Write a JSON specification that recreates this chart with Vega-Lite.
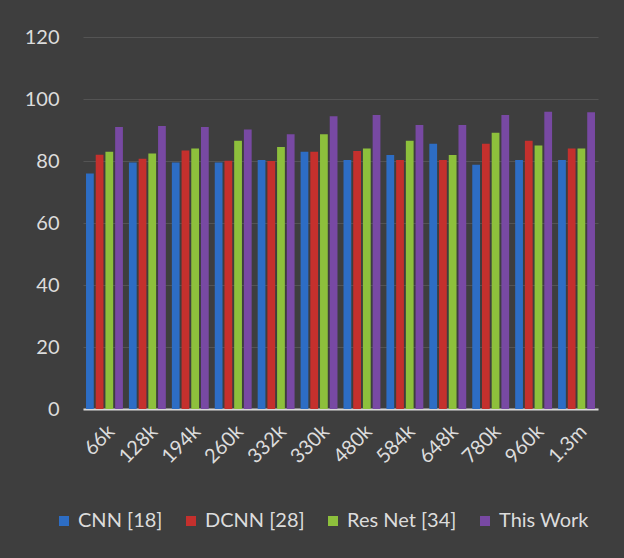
{
  "$schema": "https://vega.github.io/schema/vega-lite/v6.json",
  "autosize": "none",
  "width": 515,
  "height": 372,
  "padding": {"left": 83, "top": 37, "right": 26, "bottom": 149},
  "background": "#3e3e3e",
  "config": {
    "view": {"stroke": null},
    "font": "Lato",
    "axis": {"labelFont": "Lato", "labelColor": "#dcdcdc", "labelFontSize": 20, "titleColor": "#d9d9d9"},
    "legend": {"labelFont": "Lato", "labelColor": "#dcdcdc", "labelFontSize": 20}
  },
  "data": {
    "values": [
      {"size": "66k", "model": "CNN [18]", "value": 76},
      {"size": "66k", "model": "DCNN [28]", "value": 82},
      {"size": "66k", "model": "Res Net [34]", "value": 83},
      {"size": "66k", "model": "This Work", "value": 91},
      {"size": "128k", "model": "CNN [18]", "value": 79.5},
      {"size": "128k", "model": "DCNN [28]", "value": 80.7},
      {"size": "128k", "model": "Res Net [34]", "value": 82.4},
      {"size": "128k", "model": "This Work", "value": 91.3},
      {"size": "194k", "model": "CNN [18]", "value": 79.5},
      {"size": "194k", "model": "DCNN [28]", "value": 83.4},
      {"size": "194k", "model": "Res Net [34]", "value": 84},
      {"size": "194k", "model": "This Work", "value": 91},
      {"size": "260k", "model": "CNN [18]", "value": 79.5},
      {"size": "260k", "model": "DCNN [28]", "value": 80.1},
      {"size": "260k", "model": "Res Net [34]", "value": 86.5},
      {"size": "260k", "model": "This Work", "value": 90.2},
      {"size": "332k", "model": "CNN [18]", "value": 80.3},
      {"size": "332k", "model": "DCNN [28]", "value": 80},
      {"size": "332k", "model": "Res Net [34]", "value": 84.5},
      {"size": "332k", "model": "This Work", "value": 88.6},
      {"size": "330k", "model": "CNN [18]", "value": 83},
      {"size": "330k", "model": "DCNN [28]", "value": 83},
      {"size": "330k", "model": "Res Net [34]", "value": 88.6},
      {"size": "330k", "model": "This Work", "value": 94.4},
      {"size": "480k", "model": "CNN [18]", "value": 80.3},
      {"size": "480k", "model": "DCNN [28]", "value": 83.2},
      {"size": "480k", "model": "Res Net [34]", "value": 84},
      {"size": "480k", "model": "This Work", "value": 94.8},
      {"size": "584k", "model": "CNN [18]", "value": 81.9},
      {"size": "584k", "model": "DCNN [28]", "value": 80.3},
      {"size": "584k", "model": "Res Net [34]", "value": 86.5},
      {"size": "584k", "model": "This Work", "value": 91.6},
      {"size": "648k", "model": "CNN [18]", "value": 85.6},
      {"size": "648k", "model": "DCNN [28]", "value": 80.3},
      {"size": "648k", "model": "Res Net [34]", "value": 81.9},
      {"size": "648k", "model": "This Work", "value": 91.6},
      {"size": "780k", "model": "CNN [18]", "value": 78.8},
      {"size": "780k", "model": "DCNN [28]", "value": 85.6},
      {"size": "780k", "model": "Res Net [34]", "value": 89.1},
      {"size": "780k", "model": "This Work", "value": 94.8},
      {"size": "960k", "model": "CNN [18]", "value": 80.3},
      {"size": "960k", "model": "DCNN [28]", "value": 86.5},
      {"size": "960k", "model": "Res Net [34]", "value": 85},
      {"size": "960k", "model": "This Work", "value": 95.9},
      {"size": "1.3m", "model": "CNN [18]", "value": 80.3},
      {"size": "1.3m", "model": "DCNN [28]", "value": 84},
      {"size": "1.3m", "model": "Res Net [34]", "value": 84},
      {"size": "1.3m", "model": "This Work", "value": 95.7}
    ]
  },
  "mark": {"type": "bar"},
  "encoding": {
    "x": {
      "field": "size",
      "type": "nominal",
      "sort": null,
      "scale": {"paddingInner": 0.14, "paddingOuter": 0.07},
      "axis": {
        "title": null,
        "labelAngle": -45,
        "labelPadding": 12,
        "ticks": false,
        "domain": true,
        "domainColor": "#d9d9d9",
        "domainWidth": 2
      }
    },
    "xOffset": {
      "field": "model",
      "type": "nominal",
      "sort": null,
      "scale": {"paddingInner": 0.2, "paddingOuter": 0}
    },
    "y": {
      "field": "value",
      "type": "quantitative",
      "scale": {"domain": [0, 120], "nice": false},
      "axis": {
        "title": null,
        "values": [0, 20, 40, 60, 80, 100, 120],
        "ticks": false,
        "domain": false,
        "labelPadding": 24,
        "gridColor": "#545454",
        "gridWidth": 1
      }
    },
    "color": {
      "field": "model",
      "type": "nominal",
      "sort": null,
      "scale": {
        "domain": ["CNN [18]", "DCNN [28]", "Res Net [34]", "This Work"],
        "range": ["#2d6dc4", "#c4302d", "#8dc03c", "#7849a3"]
      },
      "legend": {
        "title": null,
        "orient": "none",
        "direction": "horizontal",
        "legendX": -29,
        "legendY": 474,
        "symbolType": "square",
        "symbolSize": 100,
        "symbolStrokeWidth": 0,
        "labelOffset": 4,
        "columnPadding": 18
      }
    }
  }
}
